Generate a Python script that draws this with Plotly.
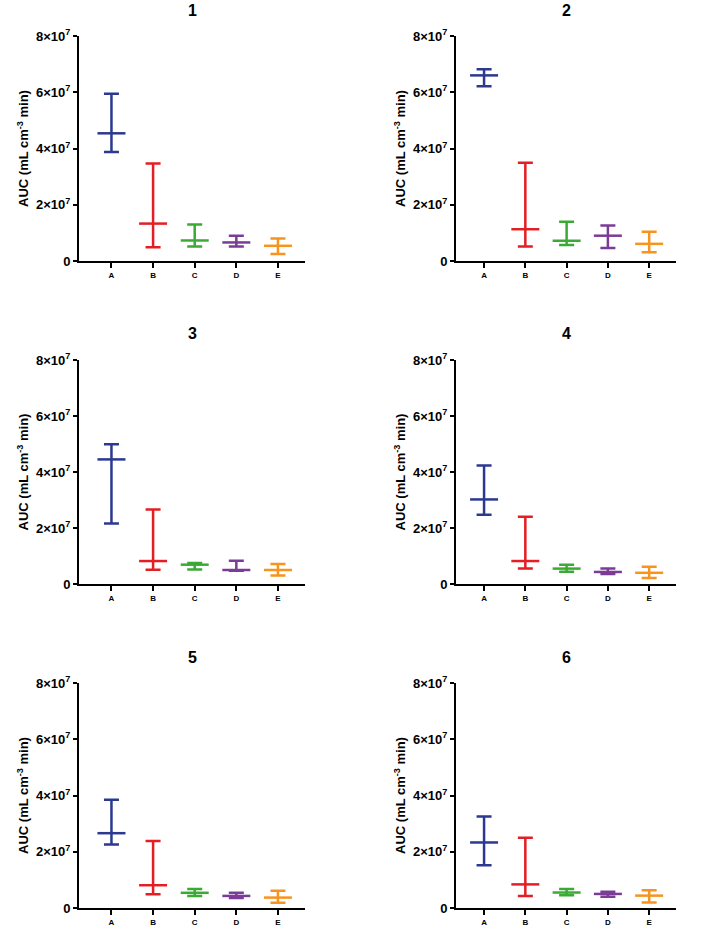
import plotly.graph_objects as go

categories = ["A", "B", "C", "D", "E"]
colors = ["#2B3990", "#E31E24", "#3BAA35", "#7B3C98", "#F7941D"]
panel_titles = ["1", "2", "3", "4", "5", "6"]

# values in units of 1e7 (median, upper, lower) per panel, per category
median_1 = [4.54, 1.33, 0.73, 0.66, 0.54]
upper_1 = [5.95, 3.47, 1.30, 0.90, 0.80]
lower_1 = [3.88, 0.49, 0.52, 0.52, 0.25]

median_2 = [6.60, 1.13, 0.72, 0.90, 0.61]
upper_2 = [6.82, 3.49, 1.40, 1.26, 1.04]
lower_2 = [6.21, 0.52, 0.57, 0.46, 0.31]

median_3 = [4.45, 0.82, 0.69, 0.50, 0.50]
upper_3 = [4.99, 2.66, 0.75, 0.83, 0.71]
lower_3 = [2.16, 0.51, 0.52, 0.47, 0.30]

median_4 = [3.02, 0.82, 0.55, 0.43, 0.40]
upper_4 = [4.23, 2.40, 0.69, 0.55, 0.62]
lower_4 = [2.47, 0.55, 0.44, 0.36, 0.21]

median_5 = [2.66, 0.81, 0.54, 0.43, 0.37]
upper_5 = [3.85, 2.38, 0.68, 0.54, 0.61]
lower_5 = [2.26, 0.49, 0.43, 0.36, 0.19]

median_6 = [2.33, 0.84, 0.55, 0.50, 0.44]
upper_6 = [3.25, 2.50, 0.68, 0.58, 0.63]
lower_6 = [1.52, 0.43, 0.45, 0.40, 0.20]

medians = [median_1, median_2, median_3, median_4, median_5, median_6]
uppers = [upper_1, upper_2, upper_3, upper_4, upper_5, upper_6]
lowers = [lower_1, lower_2, lower_3, lower_4, lower_5, lower_6]

y_tickvals = [0, 2e7, 4e7, 6e7, 8e7]
y_ticktext = ["<b>0</b>", "<b>2×10<sup>7</sup></b>", "<b>4×10<sup>7</sup></b>",
              "<b>6×10<sup>7</sup></b>", "<b>8×10<sup>7</sup></b>"]
y_title = "<b>AUC (mL cm<sup>-3</sup> min)</b>"

W, H = 707, 934
FONT = "Arial, Liberation Sans, Helvetica, sans-serif"

# pixel geometry of the panels (window coordinates)
col_px = [(79, 305), (456, 676)]
col_range = [[-0.78, 4.65], [-0.68, 4.65]]
row_px = [(36, 261), (360, 584), (683, 908)]
title_y_px = [11, 333, 657]

fig = go.Figure()
annotations = []
layout = {}

for p in range(6):
    r, c = divmod(p, 2)
    idx = p + 1
    xa = "x" if idx == 1 else f"x{idx}"
    ya = "y" if idx == 1 else f"y{idx}"
    for k, cat in enumerate(categories):
        m = medians[p][k] * 1e7
        u = uppers[p][k] * 1e7
        lo = lowers[p][k] * 1e7
        fig.add_trace(go.Scatter(
            x=[k], y=[m], xaxis=xa, yaxis=ya, mode="markers",
            marker=dict(symbol="line-ew", size=20, color=colors[k],
                        line=dict(color=colors[k], width=2.5)),
            error_y=dict(type="data", symmetric=False, array=[u - m], arrayminus=[m - lo],
                         color=colors[k], thickness=2.5, width=7.5),
            cliponaxis=False, showlegend=False, hoverinfo="skip"))
    x0, x1 = col_px[c]
    ytop, ybot = row_px[r]
    xkey = "xaxis" if idx == 1 else f"xaxis{idx}"
    ykey = "yaxis" if idx == 1 else f"yaxis{idx}"
    layout[xkey] = dict(
        domain=[x0 / W, x1 / W], range=col_range[c], anchor=ya, automargin=False,
        tickmode="array", tickvals=list(range(5)),
        ticktext=[f"<b>{t}</b>" for t in categories],
        showline=True, linecolor="black", linewidth=2, ticks="outside",
        ticklen=5, tickwidth=2, tickcolor="black", showgrid=False, zeroline=False,
        tickfont=dict(family=FONT, size=8, color="black"))
    layout[ykey] = dict(
        domain=[1 - ybot / H, 1 - ytop / H], range=[0, 8e7], anchor=xa, automargin=False,
        tickmode="array", tickvals=y_tickvals, ticktext=y_ticktext,
        showline=True, linecolor="black", linewidth=2, ticks="outside",
        ticklen=4, tickwidth=2, tickcolor="black", showgrid=False, zeroline=False,
        tickfont=dict(family=FONT, size=13, color="black"),
        title=dict(text=y_title, standoff=4,
                   font=dict(family=FONT, size=13, color="black")))
    annotations.append(dict(
        text=f"<b>{panel_titles[p]}</b>", x=(x0 + x1) / 2 / W, y=1 - title_y_px[r] / H,
        xref="paper", yref="paper", showarrow=False, xanchor="center", yanchor="middle",
        font=dict(family=FONT, size=16, color="black")))

fig.update_layout(
    width=W, height=H, margin=dict(l=0, r=0, t=0, b=0, autoexpand=False),
    paper_bgcolor="white", plot_bgcolor="white", hovermode=False,
    annotations=annotations, **layout)

fig.write_html(
    "out.html",
    config={"displayModeBar": False, "staticPlot": True},
    post_script="document.body.style.margin='0';document.body.style.overflow='hidden';")
